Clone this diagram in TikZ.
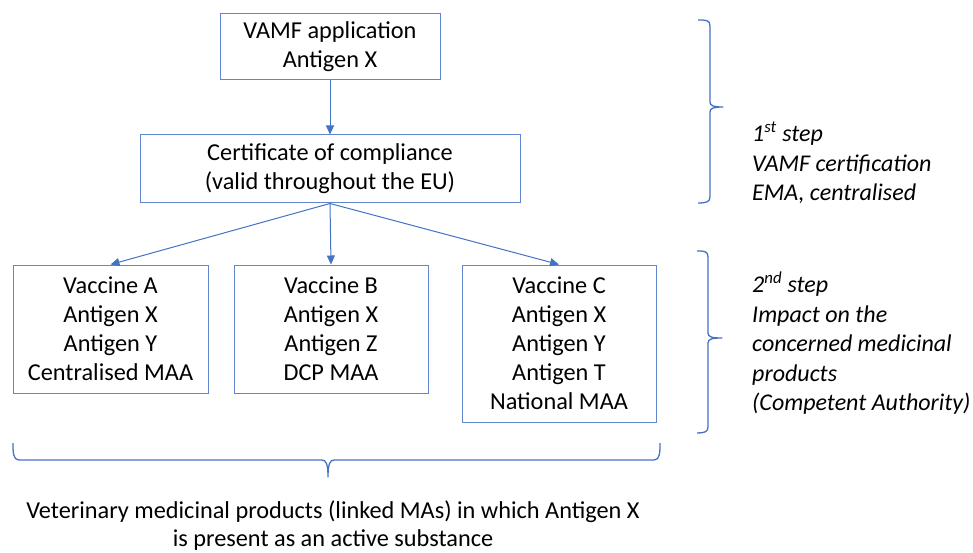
\documentclass[tikz,border=0pt]{standalone}
\usepackage{fontspec}
\setmainfont{Carlito}
\usetikzlibrary{arrows.meta}
\definecolor{boxblue}{HTML}{4472C4}
\begin{document}
\begin{tikzpicture}[x=1pt,y=-1pt,
  box/.style={draw=boxblue!85, line width=1pt, align=center, inner sep=0pt,
    font=\fontsize{24.3}{29}\selectfont},
  arr/.style={draw=boxblue, line width=1pt, -{Triangle[length=9pt,width=8pt]}},
  brace/.style={draw=boxblue, line width=1.3pt, line join=round},
  side/.style={align=left, anchor=west, inner sep=0pt,
    font=\fontsize{24}{29.5}\selectfont\itshape},
  bottom/.style={align=center, inner sep=0pt, font=\fontsize{24.3}{28}\selectfont}]
\useasboundingbox (0,0) rectangle (973,553);

\node[box, minimum width=220, minimum height=66] (vamf) at (330,47) {VAMF application\\Antigen X};
\node[box, minimum width=380, minimum height=68] (cert) at (330,169) {Certificate of compliance\\(valid throughout the EU)};
\node[box, minimum width=195, minimum height=128] (va) at (110.5,329) {Vaccine A\\Antigen X\\Antigen Y\\Centralised MAA};
\node[box, minimum width=194, minimum height=128] (vb) at (331,329) {Vaccine B\\Antigen X\\Antigen Z\\DCP MAA};
\node[box, minimum width=194, minimum height=157] (vc) at (559,343.5) {Vaccine C\\Antigen X\\Antigen Y\\Antigen T\\National MAA};

\draw[arr] (vamf.south) -- (cert.north);
\draw[arr] (cert.south) -- (va.north);
\draw[arr] (cert.south) -- (vb.north);
\draw[arr] (cert.south) -- (vc.north);

% right brace 1
\draw[brace] (698,20) .. controls (706,20) and (710,20) .. (710,26) -- (710,102)
  .. controls (710,106) and (714,107) .. (723,107)
  .. controls (714,107) and (710,108) .. (710,112) -- (710,197)
  .. controls (710,202) and (706,203) .. (698,203);
% right brace 2
\draw[brace] (697,251) .. controls (704,251) and (708,251) .. (708,257) -- (708,333)
  .. controls (708,337) and (712,338) .. (722,338)
  .. controls (712,338) and (708,339) .. (708,343) -- (708,427)
  .. controls (708,432) and (704,433) .. (697,433);
% bottom brace
\draw[brace] (13,443) .. controls (13,452) and (13,460) .. (19,460) -- (322,460)
  .. controls (326,460) and (328,464) .. (328,477)
  .. controls (328,464) and (330,460) .. (334,460) -- (654,460)
  .. controls (660,460) and (660,452) .. (660,443);

\node[side] (s1) at (752,163) {1\textsuperscript{st} step\\VAMF certification\\EMA, centralised};
\node[side] (s2) at (752,343.5) {2\textsuperscript{nd} step\\Impact on the\\concerned medicinal\\products\\(Competent Authority)};
\node[bottom] (bt) at (333,526) {Veterinary medicinal products (linked MAs) in which Antigen X\\is present as an active substance};
\end{tikzpicture}
\end{document}
